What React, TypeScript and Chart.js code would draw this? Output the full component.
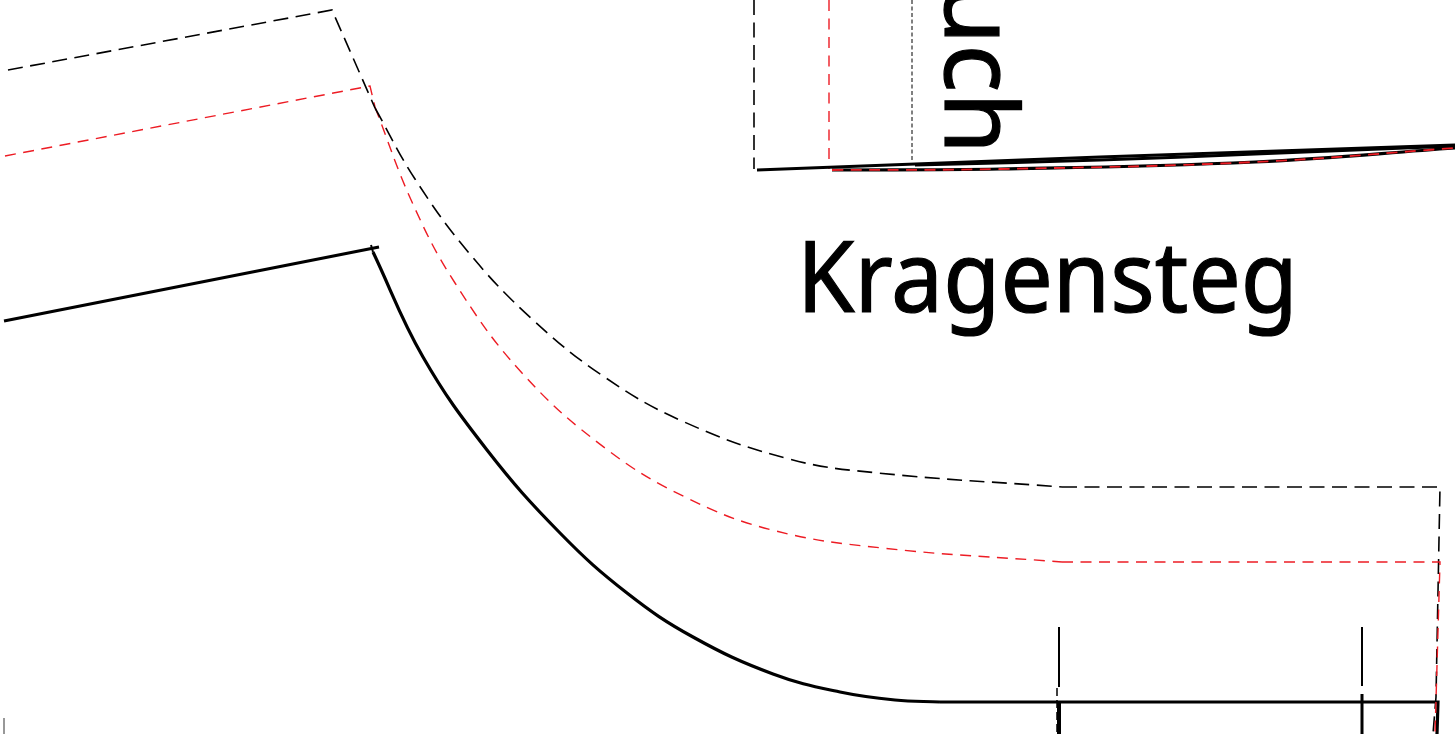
import React, { useEffect, useRef } from "react";
import { Chart, registerables } from "chart.js";

Chart.register(...registerables);

type P = [number, number];

const blackStraight: P[] = [[8, 70], [332, 10], [375, 108]];
const blackCurve: P[] = [[375, 108], [415, 179], [469, 253], [532, 319], [603, 376], [682, 421], [789, 459], [878, 473], [1062, 487]];
const blackEdge: P[] = [[1062, 487], [1440, 487], [1436, 697], [1433, 734]];
const redStraight: P[] = [[5, 156], [370, 86], [375, 107]];
const redCurve: P[] = [[375, 107], [412, 202], [455, 283], [522, 373], [605, 448], [685, 497], [772, 530], [882, 548], [1062, 562]];
const redEdge: P[] = [[1062, 562], [1440, 562], [1436, 700], [1435, 734]];
const solidCollar: P[] = [[4, 321], [379, 247]];
const solidTick: P[] = [[371, 245], [373, 252]];
const solidCurve: P[] = [[373, 252], [423, 357], [487, 450], [560, 533], [627, 593], [693, 637], [773, 674], [840, 692], [895, 700], [940, 702]];
const solidBase: P[] = [[940, 702], [1438, 702], [1437, 734]];
const notchA: P[] = [[1059, 627], [1059, 687]];
const notchADash: P[] = [[1057, 688], [1057, 734]];
const notchABold: P[] = [[1059, 702], [1059, 734]];
const notchB: P[] = [[1362, 627], [1362, 686]];
const notchBLow: P[] = [[1362, 694], [1362, 734]];
const topBlackDash: P[] = [[754, 0], [754, 169]];
const topRedDash: P[] = [[829, 0], [829, 169]];
const topDotted: P[] = [[912, 0], [912, 162]];
const hemLineA: P[] = [[757, 170], [1100, 157], [1455, 145]];
const hemLineB: P[] = [[915, 165], [1100, 160], [1255, 154], [1455, 146]];
const hemLineC: P[] = [[832, 170], [1000, 169], [1255, 162], [1455, 148]];
const hemRed: P[] = [[832, 170], [1000, 169], [1255, 162], [1455, 148]];
const cornerMark: P[] = [[4, 718], [4, 734]];

const BLACK = "#000000";
const RED = "#ed1c24";

function ds(points: P[], color: string, width: number, dash: number[] = [], tension = 0) {
  return {
    data: points.map(([x, y]) => ({ x, y })),
    showLine: true,
    borderColor: color,
    borderWidth: width,
    borderDash: dash,
    tension,
    pointRadius: 0,
    fill: false,
    borderCapStyle: "butt" as const,
    borderJoinStyle: "miter" as const,
  };
}

const labels = [
  { text: "Kragensteg", x: 797, y: 312, size: 98, width: 501, rotate: false },
  { text: "Bruch", x: 945, y: 154, size: 100, width: 0, rotate: true },
];

const textPlugin = {
  id: "patternText",
  afterDatasetsDraw(chart: any) {
    const { ctx, scales } = chart;
    ctx.save();
    ctx.fillStyle = BLACK;
    ctx.strokeStyle = BLACK;
    ctx.lineWidth = 1.2;
    for (const l of labels) {
      const px = scales.x.getPixelForValue(l.x);
      const py = scales.y.getPixelForValue(l.y);
      ctx.font = `${l.size}px "Noto Sans"`;
      ctx.textBaseline = "alphabetic";
      ctx.save();
      ctx.translate(px, py);
      if (l.rotate) {
        ctx.rotate(Math.PI / 2);
        ctx.textAlign = "right";
      } else {
        ctx.textAlign = "left";
        const w = ctx.measureText(l.text).width;
        ctx.scale(l.width / w, 1);
      }
      ctx.fillText(l.text, 0, 0);
      ctx.strokeText(l.text, 0, 0);
      ctx.restore();
    }
    ctx.restore();
  },
};

export default function App() {
  const ref = useRef<HTMLCanvasElement | null>(null);
  useEffect(() => {
    document.body.style.margin = "0";
    document.body.style.background = "#fff";
    const chart = new Chart(ref.current as HTMLCanvasElement, {
      type: "scatter",
      data: {
        datasets: [
          ds(hemRed, RED, 1.8, [11, 7.5], 0.4),
          ds(hemLineC, BLACK, 3.2, [], 0.4),
          ds(hemLineB, BLACK, 3, [], 0.4),
          ds(hemLineA, BLACK, 3, [], 0.4),
          ds(redEdge, RED, 1.4, [11, 7.5]),
          ds(blackStraight, BLACK, 1.6, [15, 7.5]),
          ds(blackCurve, BLACK, 1.6, [15, 7.5], 0.4),
          ds(blackEdge, BLACK, 1.6, [15, 7.5]),
          ds(redStraight, RED, 1.4, [11, 7.5]),
          ds(redCurve, RED, 1.4, [11, 7.5], 0.4),
          ds(solidCollar, BLACK, 3.2),
          ds(solidTick, BLACK, 2),
          ds(solidCurve, BLACK, 3.2, [], 0.4),
          ds(solidBase, BLACK, 3.2),
          ds(notchA, BLACK, 2),
          ds(notchADash, BLACK, 1.5, [8, 4]),
          ds(notchABold, BLACK, 4),
          ds(notchB, BLACK, 2),
          ds(notchBLow, BLACK, 3),
          ds(topBlackDash, BLACK, 1.6, [15, 7.5]),
          ds(topRedDash, RED, 1.4, [11, 7.5]),
          ds(topDotted, BLACK, 1, [4, 2.5]),
          ds(cornerMark, "#777777", 1.5),
        ],
      },
      options: {
        animation: false,
        responsive: false,
        layout: { padding: 0 },
        plugins: { legend: { display: false }, tooltip: { enabled: false }, title: { display: false } },
        scales: {
          x: { type: "linear", min: 0, max: 1455, display: false },
          y: { type: "linear", min: 0, max: 734, reverse: true, display: false },
        },
      },
      plugins: [textPlugin],
    } as any);
    return () => chart.destroy();
  }, []);
  return (
    <div style={{ position: "absolute", left: 0, top: 0, width: 1455, height: 734, overflow: "hidden", background: "#fff" }}>
      <canvas ref={ref} width={1455} height={734} style={{ display: "block" }} />
    </div>
  );
}
